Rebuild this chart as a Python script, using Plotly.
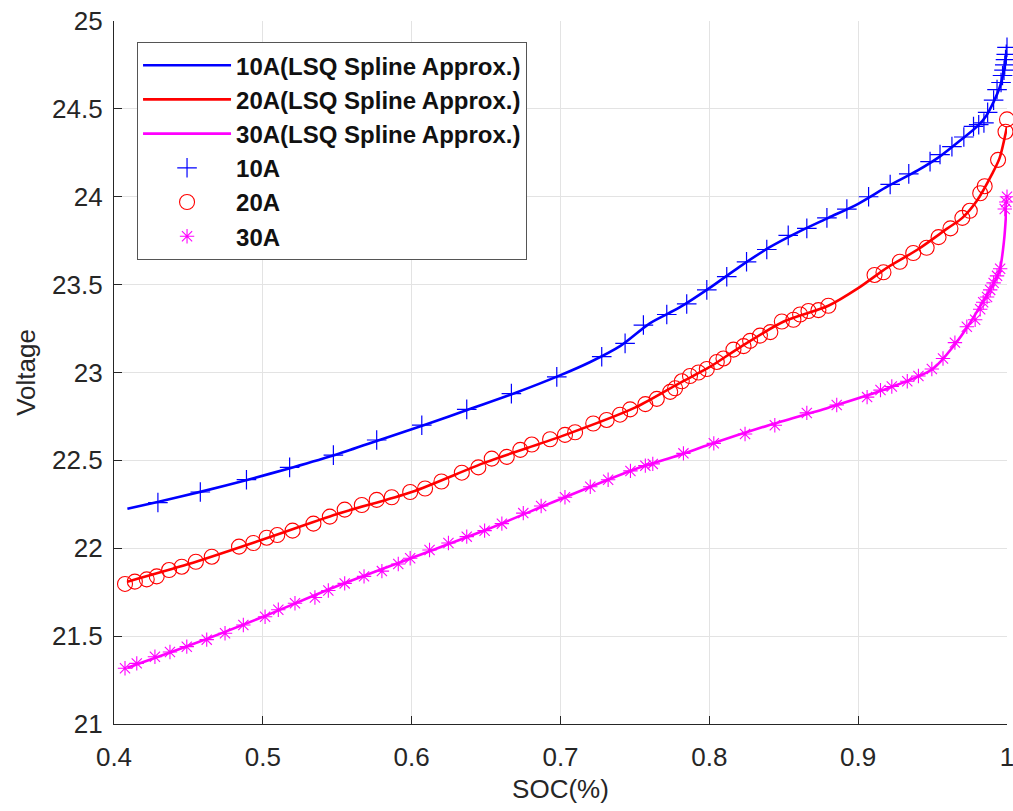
import plotly.graph_objects as go

# ---- data ----
fit10_x = [0.409, 0.43, 0.46, 0.49, 0.52, 0.55, 0.58, 0.61, 0.64, 0.67, 0.70, 0.72, 0.74, 0.76, 0.78,
           0.80, 0.82, 0.84, 0.86, 0.88, 0.90, 0.92, 0.94, 0.955, 0.97, 0.98, 0.986, 0.991, 0.995, 0.998, 1.0]
fit10_y = [22.225, 22.265, 22.325, 22.39, 22.46, 22.535, 22.62, 22.705, 22.795, 22.885, 22.985, 23.06, 23.15,
           23.28, 23.37, 23.48, 23.60, 23.71, 23.80, 23.88, 23.96, 24.06, 24.15, 24.23, 24.33, 24.40, 24.46,
           24.54, 24.62, 24.72, 24.83]

fit20_x = [0.409, 0.45, 0.5, 0.55, 0.6, 0.65, 0.7, 0.75, 0.78, 0.8, 0.82, 0.85, 0.88, 0.9, 0.92, 0.94,
           0.96, 0.97, 0.98, 0.99, 0.995, 1.0]
fit20_y = [21.81, 21.91, 22.05, 22.195, 22.32, 22.49, 22.635, 22.80, 22.94, 23.03, 23.14, 23.29, 23.38,
           23.48, 23.60, 23.70, 23.82, 23.88, 23.98, 24.13, 24.22, 24.40]

fit30_x = [0.409, 0.45, 0.5, 0.55, 0.6, 0.65, 0.7, 0.75, 0.78, 0.8, 0.84, 0.88, 0.92, 0.95, 0.965, 0.975,
           0.985, 0.99, 0.995, 0.998, 1.0]
fit30_y = [21.32, 21.445, 21.61, 21.785, 21.945, 22.105, 22.28, 22.45, 22.53, 22.59, 22.70, 22.80, 22.91,
           23.02, 23.16, 23.28, 23.42, 23.49, 23.58, 23.75, 23.99]

meas10_x = [0.4295, 0.458, 0.489, 0.518, 0.5474, 0.5765, 0.6068, 0.637, 0.667, 0.6975, 0.7277, 0.7434,
            0.7557, 0.7714, 0.7848, 0.7983, 0.8117, 0.825, 0.8386, 0.853, 0.8655, 0.879, 0.8924, 0.907,
            0.9215, 0.934, 0.9483, 0.955, 0.963, 0.971, 0.9775, 0.981, 0.9845, 0.987, 0.991, 0.9933, 0.996,
            0.997, 0.998, 0.9985, 0.999, 0.9995, 1.0]
meas10_y = [22.26, 22.32, 22.39, 22.46, 22.53, 22.616, 22.70, 22.79, 22.88, 22.975, 23.09, 23.166, 23.27,
            23.33, 23.39, 23.47, 23.545, 23.63, 23.70, 23.78, 23.82, 23.88, 23.93, 24.0, 24.07, 24.13, 24.20,
            24.24, 24.285, 24.34, 24.40, 24.41, 24.42, 24.48, 24.55, 24.61, 24.65, 24.69, 24.72, 24.75,
            24.78, 24.81, 24.85]

meas20_x = [0.4074, 0.414, 0.422, 0.4287, 0.437, 0.4455, 0.455, 0.4657, 0.484, 0.4936, 0.5026, 0.5097, 0.52,
            0.534, 0.545, 0.555, 0.5665, 0.5765, 0.5866, 0.599, 0.609, 0.620, 0.6337, 0.6448, 0.6538, 0.6639,
            0.673, 0.6807, 0.693, 0.703, 0.7098, 0.722, 0.731, 0.740, 0.7468, 0.757, 0.7647, 0.7737, 0.777,
            0.7815, 0.787, 0.7927, 0.7983, 0.805, 0.8095, 0.8162, 0.823, 0.8274, 0.834, 0.841, 0.8487, 0.8565,
            0.861, 0.8666, 0.8733, 0.880, 0.911, 0.917, 0.928, 0.937, 0.946, 0.954, 0.962, 0.970, 0.975, 0.982,
            0.985, 0.994, 0.999, 1.0]
meas20_y = [21.797, 21.81, 21.823, 21.84, 21.876, 21.895, 21.923, 21.952, 22.009, 22.03, 22.06, 22.075, 22.10,
            22.14, 22.18, 22.22, 22.246, 22.275, 22.29, 22.32, 22.34, 22.38, 22.43, 22.46, 22.51, 22.52, 22.56,
            22.59, 22.62, 22.645, 22.66, 22.71, 22.73, 22.76, 22.79, 22.82, 22.85, 22.89, 22.91, 22.95, 22.98,
            23.0, 23.02, 23.06, 23.08, 23.13, 23.15, 23.18, 23.21, 23.23, 23.29, 23.30, 23.33, 23.35, 23.355,
            23.38, 23.555, 23.57, 23.63, 23.68, 23.71, 23.77, 23.82, 23.88, 23.92, 24.02, 24.06, 24.21, 24.37,
            24.44]

meas30_x = [0.4074, 0.4153, 0.4275, 0.4376, 0.4489, 0.4623, 0.4746, 0.4869, 0.5015, 0.5104, 0.5216, 0.535,
            0.544, 0.555, 0.568, 0.580, 0.591, 0.599, 0.612, 0.6247, 0.637, 0.649, 0.6606, 0.675, 0.687, 0.703,
            0.720, 0.732, 0.747, 0.757, 0.762, 0.7826, 0.803, 0.824, 0.844, 0.8655, 0.8856, 0.906, 0.915,
            0.9226, 0.933, 0.9405, 0.9495, 0.957, 0.965, 0.973, 0.9786, 0.982, 0.984, 0.9866, 0.9887, 0.991,
            0.9933, 0.9954, 0.9985, 0.9995, 1.0]
meas30_y = [21.317, 21.345, 21.383, 21.41, 21.44, 21.48, 21.516, 21.563, 21.61, 21.65, 21.687, 21.72, 21.76,
            21.80, 21.84, 21.87, 21.91, 21.943, 21.99, 22.03, 22.066, 22.10, 22.14, 22.20, 22.24, 22.29, 22.35,
            22.39, 22.44, 22.47, 22.48, 22.54, 22.597, 22.65, 22.70, 22.77, 22.815, 22.86, 22.90, 22.92, 22.95,
            22.98, 23.02, 23.08, 23.17, 23.26, 23.30, 23.36, 23.40, 23.43, 23.47, 23.51, 23.55, 23.59, 23.93,
            23.97, 24.0]

x_ticks = [0.4, 0.5, 0.6, 0.7, 0.8, 0.9, 1.0]
x_tick_labels = ["0.4", "0.5", "0.6", "0.7", "0.8", "0.9", "1"]
y_ticks = [21, 21.5, 22, 22.5, 23, 23.5, 24, 24.5, 25]
y_tick_labels = ["21", "21.5", "22", "22.5", "23", "23.5", "24", "24.5", "25"]

BLUE, RED, MAG = "#0000FF", "#FF0000", "#FF00FF"
FONT = "Liberation Sans, Arial"

fig = go.Figure()
for name, xs, ys, c in [("10A(LSQ Spline Approx.)", fit10_x, fit10_y, BLUE),
                        ("20A(LSQ Spline Approx.)", fit20_x, fit20_y, RED),
                        ("30A(LSQ Spline Approx.)", fit30_x, fit30_y, MAG)]:
    fig.add_trace(go.Scatter(x=xs, y=ys, mode="lines", name=name,
                             line=dict(color=c, width=2.6, shape="spline", smoothing=0.8),
                             cliponaxis=False))

fig.add_trace(go.Scatter(x=meas10_x, y=meas10_y, mode="markers", name="10A",
                         marker=dict(symbol="cross-thin-open", size=14, color=BLUE,
                                     line=dict(color=BLUE, width=1.2)), cliponaxis=False))
fig.add_trace(go.Scatter(x=meas20_x, y=meas20_y, mode="markers", name="20A",
                         marker=dict(symbol="circle-open", size=15, color=RED,
                                     line=dict(color=RED, width=1.1)), cliponaxis=False))
fig.add_trace(go.Scatter(x=meas30_x, y=meas30_y, mode="markers", name="30A",
                         marker=dict(symbol="asterisk-open", size=12, color=MAG,
                                     line=dict(color=MAG, width=1.1)), cliponaxis=False))

axis_common = dict(showgrid=True, gridcolor="#E3E3E3", gridwidth=1, zeroline=False,
                   showline=True, linecolor="#262626", linewidth=1.2,
                   ticks="inside", ticklen=8, tickcolor="#262626", tickwidth=1,
                   ticklabeloverflow="allow", automargin=False,
                   tickfont=dict(family=FONT, size=26, color="#262626"))

fig.update_layout(
    width=1013, height=811,
    margin=dict(l=114, r=6, t=21, b=87),
    plot_bgcolor="white", paper_bgcolor="white",
    font=dict(family=FONT, color="#262626"),
    xaxis=dict(range=[0.4, 1.0], tickvals=x_ticks, ticktext=x_tick_labels,
               title=dict(text="SOC(%)", font=dict(size=26, color="#262626"), standoff=8),
               ticklabelstandoff=10, **axis_common),
    yaxis=dict(range=[21, 25], tickvals=y_ticks, ticktext=y_tick_labels,
               title=dict(text="Voltage", font=dict(size=26, color="#262626"), standoff=8),
               ticklabelstandoff=5, **axis_common),
    showlegend=True,
    legend=dict(x=0.0258, y=0.97, xanchor="left", yanchor="top",
                bgcolor="white", bordercolor="#555555", borderwidth=1,
                font=dict(family=FONT, size=24, color="#111111", weight="bold"),
                itemwidth=88, tracegroupgap=0),
)

# remove the default 8px page margin so the figure fills the window exactly
fig.write_html("out.html",
               config={"displayModeBar": False},
               post_script="document.body.style.margin='0';document.body.style.overflow='hidden';")
